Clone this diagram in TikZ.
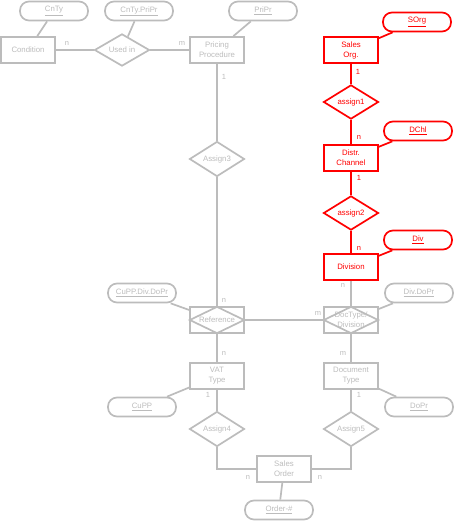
\documentclass[tikz,border=0pt]{standalone}
\usepackage{fontspec}
\setmainfont{Liberation Sans}
\usetikzlibrary{shapes.geometric}
\definecolor{lg}{RGB}{188,188,188}
\definecolor{rd}{RGB}{255,0,0}
\begin{document}
\begin{tikzpicture}[x=1pt,y=-1pt,
 font=\fontsize{7.8}{10}\selectfont,
 ent/.style={draw=lg, text=lg, line width=1.7pt, minimum width=54pt, minimum height=26pt, inner sep=0pt, align=center},
 rel/.style={draw=lg, text=lg, line width=1.7pt, diamond, minimum width=55pt, minimum height=27pt, inner sep=0pt},
 att/.style={draw=lg, text=lg, line width=1.7pt, rounded corners=9pt, minimum width=68pt, minimum height=19pt, inner sep=0pt},
 rent/.style={ent, draw=rd, text=rd},
 rrel/.style={rel, draw=rd, text=rd},
 ratt/.style={att, draw=rd, text=rd},
 con/.style={draw=lg, line width=1.7pt},
 rcon/.style={draw=rd, line width=1.7pt},
 card/.style={text=lg, inner sep=0pt, font=\fontsize{7.5}{8}\selectfont},
 rcard/.style={card, text=rd}
]
\useasboundingbox (0,0) rectangle (454,521);
% entities
\node[ent] (cond) at (28,50) {Condition};
\node[ent] (pp) at (217,50) {Pricing\\Procedure};
\node[ent] (vat) at (217,376) {VAT\\Type};
\node[ent] (doc) at (351,376) {Document\\Type};
\node[ent] (so) at (284,469) {Sales\\Order};
\node[rent] (sorg) at (351,50) {Sales\\Org.};
\node[rent] (dch) at (351,158) {Distr.\\Channel};
\node[rent] (div) at (351,267) {Division};
% relationships
\node[rel] (used) at (122,50) {Used in};
\node[rel] (as3) at (217,159) {Assign3};
\node[rel] (as4) at (217,429) {Assign4};
\node[rel] (as5) at (351,429) {Assign5};
\node[rrel] (as1) at (351,102) {assign1};
\node[rrel] (as2) at (351,213) {assign2};
\node[ent] (ref) at (217,320) {Reference};
\node[rel] (refd) at (217,320) {};
\node[ent] (dtd) at (351,320) {DocType/\\Division};
\node[rel] (dtdd) at (351,320) {};
% attributes
\node[att] (cnty) at (54,11) {\underline{CnTy}};
\node[att] (cntypp) at (139,11) {\underline{CnTy.PriPr}};
\node[att] (pripr) at (263,11) {\underline{PriPr}};
\node[ratt] (sorga) at (417,22) {\underline{SOrg}};
\node[ratt] (dchl) at (418,131) {\underline{DChl}};
\node[ratt] (diva) at (418,240) {\underline{Div}};
\node[att] (cdd) at (142,293) {\underline{CuPP.Div.DoPr}};
\node[att] (dd) at (419,293) {\underline{Div.DoPr}};
\node[att] (cupp) at (142,407) {\underline{CuPP}};
\node[att] (dopr) at (419,407) {\underline{DoPr}};
\node[att] (ord) at (279,510) {\underline{Order-\#}};
% connectors
\draw[con] (cnty) -- (cond);
\draw[con] (cntypp) -- (used);
\draw[con] (pripr) -- (pp);
\draw[con] (cond) -- (used);
\draw[con] (used) -- (pp);
\draw[con] (pp) -- (as3);
\draw[con] (as3) -- (ref);
\draw[con] (ref) -- (dtd);
\draw[con] (div) -- (dtd);
\draw[con] (cdd) -- (ref);
\draw[con] (dd) -- (dtd);
\draw[con] (ref) -- (vat);
\draw[con] (dtd) -- (doc);
\draw[con] (vat) -- (cupp);
\draw[con] (doc) -- (dopr);
\draw[con] (vat) -- (as4);
\draw[con] (doc) -- (as5);
\draw[con] (as4.south) |- (so.west);
\draw[con] (as5.south) |- (so.east);
\draw[con] (so) -- (ord);
\draw[rcon] (sorga) -- (sorg);
\draw[rcon] (dchl) -- (dch);
\draw[rcon] (diva) -- (div);
\draw[rcon] (sorg) -- (as1);
\draw[rcon] (as1) -- (dch);
\draw[rcon] (dch) -- (as2);
\draw[rcon] (as2) -- (div);
% cardinalities
\node[card] (c1) at (67,43) {n};
\node[card] (c2) at (182,43) {m};
\node[card] (c3) at (224,77) {1};
\node[card] (c4) at (224,300) {n};
\node[card] (c5) at (343,285) {n};
\node[card] (c6) at (318,313) {m};
\node[card] (c7) at (224,353) {n};
\node[card] (c8) at (343,353) {m};
\node[card] (c9) at (208,395) {1};
\node[card] (c10) at (359,395) {1};
\node[card] (c11) at (248,477) {n};
\node[card] (c12) at (320,477) {n};
\node[rcard] (r1) at (358,72) {1};
\node[rcard] (r2) at (359,137) {n};
\node[rcard] (r3) at (359,178) {1};
\node[rcard] (r4) at (359,248) {n};
\end{tikzpicture}
\end{document}
